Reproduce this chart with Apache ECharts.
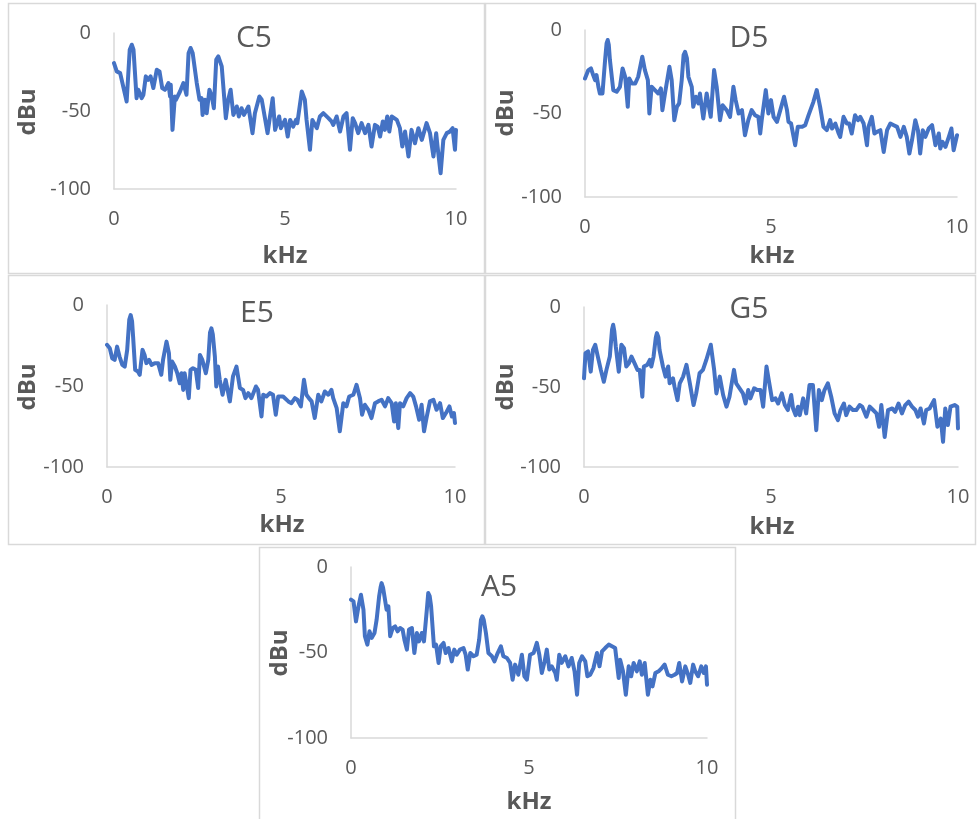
<!DOCTYPE html>
<html>
<head>
<meta charset="utf-8">
<script src="https://cdn.jsdelivr.net/npm/echarts@6/dist/echarts.min.js"></script>
<style>
html,body{margin:0;padding:0;background:#fff;}
#chart{width:977px;height:819px;}
</style>
</head>
<body>
<div id="chart"></div>
<script>
// Panel names
const panelNames = ['C5', 'D5', 'E5', 'G5', 'A5'];
const xTicks = [0, 5, 10];
const yTicks = [-100, -50, 0];

// C5
const khzC5 = [0.00,0.08,0.18,0.22,0.37,0.46,0.52,0.57,0.66,0.71,0.81,0.86,0.93,1.00,1.07,1.15,1.25,1.33,1.41,1.49,1.59,1.64,1.66,1.71,1.78,1.81,1.93,2.03,2.08,2.12,2.18,2.24,2.30,2.42,2.50,2.56,2.59,2.66,2.71,2.79,2.86,2.92,2.99,3.05,3.15,3.27,3.34,3.41,3.49,3.59,3.65,3.73,3.80,3.93,4.05,4.12,4.25,4.32,4.49,4.64,4.71,4.83,4.88,5.00,5.08,5.15,5.24,5.32,5.36,5.49,5.58,5.63,5.73,5.80,5.93,6.02,6.12,6.27,6.36,6.41,6.51,6.61,6.71,6.80,6.90,6.98,7.05,7.14,7.24,7.34,7.44,7.53,7.63,7.71,7.78,7.86,7.92,7.99,8.05,8.12,8.27,8.36,8.43,8.51,8.61,8.70,8.80,8.90,9.00,9.14,9.24,9.34,9.42,9.46,9.55,9.63,9.73,9.82,9.90,9.97,10.0];
const dbuC5 = [-19.3,-24.6,-25.7,-26.8,-43.9,-10.7,-7.5,-10.7,-41.8,-36.4,-41.8,-39.6,-27.8,-30.0,-27.8,-35.3,-23.6,-24.6,-35.3,-36.4,-32.1,-40.7,-33.2,-62.1,-40.7,-42.8,-37.5,-32.1,-33.2,-39.6,-13.0,-9.6,-12.8,-32.1,-42.8,-41.8,-52.5,-42.8,-51.4,-36.4,-40.7,-48.2,-17.0,-15.0,-21.4,-54.6,-42.8,-36.4,-52.5,-47.1,-53.5,-48.2,-52.5,-47.1,-64.2,-51.4,-40.7,-42.8,-64.2,-41.8,-62.1,-53.5,-61.0,-55.7,-66.4,-55.7,-60.0,-55.7,-57.8,-37.5,-42.8,-55.7,-74.9,-55.7,-61.0,-53.5,-51.4,-54.6,-56.7,-58.9,-53.5,-63.2,-53.5,-51.4,-74.9,-54.6,-57.8,-64.2,-57.8,-64.2,-58.9,-72.8,-58.9,-60.0,-66.4,-56.7,-62.1,-53.5,-63.2,-53.5,-55.7,-61.0,-72.8,-63.2,-79.2,-62.1,-70.7,-61.0,-68.5,-57.8,-64.2,-79.2,-64.2,-72.8,-89.9,-68.5,-64.2,-63.2,-61.0,-74.9,-62.1];

// D5
const khzD5 = [0.00,0.09,0.16,0.22,0.27,0.31,0.36,0.40,0.47,0.54,0.58,0.61,0.64,0.67,0.76,0.85,0.94,1.01,1.08,1.15,1.19,1.26,1.35,1.43,1.54,1.61,1.69,1.73,1.79,1.88,1.97,2.04,2.08,2.15,2.27,2.33,2.40,2.47,2.53,2.60,2.65,2.69,2.74,2.78,2.87,2.91,2.98,3.05,3.09,3.18,3.27,3.38,3.47,3.54,3.63,3.70,3.81,3.90,3.99,4.05,4.13,4.22,4.30,4.39,4.48,4.57,4.66,4.71,4.75,4.86,4.93,5.00,5.07,5.16,5.25,5.35,5.43,5.47,5.54,5.65,5.72,5.83,5.92,6.01,6.14,6.23,6.32,6.41,6.50,6.59,6.64,6.73,6.82,6.86,6.95,7.04,7.10,7.17,7.26,7.34,7.40,7.49,7.58,7.62,7.71,7.78,7.85,7.94,8.03,8.12,8.21,8.30,8.39,8.48,8.57,8.65,8.72,8.79,8.88,8.95,9.01,9.08,9.15,9.24,9.33,9.42,9.51,9.55,9.61,9.69,9.78,9.85,9.91,10.0];
const dbuD5 = [-29,-24,-23,-27,-30,-27,-34,-38,-38,-18,-8,-6,-9,-18,-36,-37,-34,-23,-28,-46,-29,-32,-32,-28,-16,-24,-30,-50,-34,-36,-38,-35,-48,-38,-22,-30,-54,-46,-44,-30,-15,-13,-17,-28,-34,-46,-40,-44,-38,-53,-38,-52,-24,-34,-54,-45,-48,-52,-34,-42,-50,-48,-63,-54,-48,-51,-52,-62,-54,-36,-50,-42,-52,-55,-48,-40,-48,-55,-56,-69,-58,-58,-57,-51,-43,-36,-46,-58,-60,-54,-59,-56,-62,-64,-52,-56,-56,-62,-51,-54,-52,-56,-69,-58,-52,-62,-61,-60,-73,-60,-56,-57,-58,-64,-58,-64,-74,-66,-54,-60,-74,-60,-64,-59,-57,-69,-62,-71,-67,-70,-64,-59,-72,-63];

// E5
const khzE5 = [0.00,0.08,0.15,0.22,0.29,0.36,0.44,0.51,0.58,0.64,0.68,0.72,0.75,0.81,0.89,0.94,1.02,1.08,1.13,1.21,1.28,1.37,1.47,1.56,1.61,1.71,1.78,1.82,1.87,1.95,2.02,2.09,2.14,2.19,2.23,2.28,2.35,2.40,2.47,2.55,2.62,2.67,2.74,2.84,2.91,2.96,3.00,3.04,3.10,3.14,3.19,3.24,3.32,3.41,3.53,3.62,3.72,3.82,3.91,3.98,4.06,4.15,4.28,4.34,4.44,4.49,4.58,4.68,4.77,4.85,4.92,5.06,5.21,5.30,5.40,5.47,5.57,5.66,5.73,5.80,5.88,5.97,6.07,6.16,6.26,6.36,6.45,6.50,6.60,6.69,6.79,6.88,6.96,7.08,7.17,7.27,7.33,7.41,7.51,7.60,7.70,7.79,7.89,7.99,8.08,8.18,8.25,8.30,8.37,8.42,8.51,8.61,8.71,8.80,8.88,8.97,9.04,9.11,9.19,9.28,9.38,9.47,9.57,9.65,9.74,9.84,9.91,9.97,10.0];
const dbuE5 = [-24.6,-26.7,-32.9,-33.9,-25.7,-31.8,-37.0,-38.0,-27.7,-9.0,-6.2,-10.0,-19.5,-40.0,-41.1,-43.1,-27.7,-30.8,-35.9,-33.9,-37.0,-35.9,-35.9,-43.1,-33.9,-22.6,-29.8,-46.2,-34.9,-38.0,-42.1,-48.3,-42.1,-52.4,-42.1,-48.3,-57.5,-40.0,-39.0,-40.0,-51.3,-30.8,-33.9,-42.1,-33.9,-17.0,-14.4,-18.0,-31.8,-50.3,-38.0,-46.2,-55.4,-46.2,-59.5,-44.1,-38.0,-51.3,-52.4,-57.5,-54.4,-57.5,-50.3,-52.4,-68.8,-55.4,-56.5,-54.4,-55.4,-67.8,-56.5,-56.5,-59.5,-60.6,-57.5,-58.5,-62.6,-46.2,-55.4,-57.5,-59.5,-69.8,-55.4,-59.5,-53.4,-55.4,-52.4,-57.5,-63.7,-78.0,-60.6,-62.6,-56.5,-55.4,-49.3,-57.5,-67.8,-61.6,-64.7,-69.8,-60.6,-59.5,-58.5,-62.6,-57.5,-60.6,-71.9,-60.6,-76.0,-60.6,-62.6,-57.5,-54.4,-56.5,-62.6,-70.8,-61.6,-78.0,-68.8,-59.5,-58.5,-64.7,-60.6,-69.8,-66.7,-62.6,-68.8,-66.7,-72.9];

// G5
const khzG5 = [0.00,0.04,0.11,0.18,0.24,0.30,0.37,0.45,0.53,0.60,0.69,0.75,0.78,0.81,0.85,0.93,1.00,1.07,1.13,1.20,1.27,1.35,1.43,1.49,1.56,1.60,1.69,1.76,1.80,1.86,1.92,1.95,1.99,2.02,2.11,2.18,2.25,2.29,2.38,2.42,2.50,2.56,2.65,2.74,2.83,2.93,3.00,3.09,3.18,3.27,3.39,3.48,3.54,3.63,3.72,3.81,3.89,4.01,4.07,4.16,4.25,4.32,4.39,4.45,4.55,4.63,4.72,4.79,4.88,4.94,5.03,5.12,5.19,5.29,5.37,5.45,5.54,5.59,5.66,5.72,5.77,5.86,5.94,6.03,6.12,6.21,6.28,6.36,6.43,6.52,6.61,6.70,6.79,6.86,6.95,7.01,7.10,7.19,7.28,7.37,7.44,7.55,7.64,7.73,7.82,7.89,7.95,8.04,8.13,8.24,8.32,8.41,8.50,8.59,8.68,8.77,8.86,8.93,9.00,9.09,9.15,9.24,9.36,9.45,9.54,9.60,9.66,9.73,9.80,9.91,9.98,10.0];
const dbuG5 = [-44.6,-28.9,-27.8,-40.4,-26.8,-23.6,-31.0,-39.3,-46.7,-39.3,-31.0,-14.0,-11.1,-15.0,-24.7,-40.4,-23.6,-25.7,-37.2,-35.1,-31.0,-35.1,-39.3,-39.3,-56.1,-37.2,-36.2,-33.1,-37.2,-31.0,-19.0,-16.3,-19.0,-26.8,-37.2,-43.5,-37.2,-47.7,-44.6,-49.8,-58.2,-47.7,-43.5,-36.2,-47.7,-61.3,-54.0,-41.4,-39.3,-33.1,-23.6,-39.3,-54.0,-43.5,-55.0,-62.3,-56.1,-39.3,-47.7,-50.8,-54.0,-60.3,-51.9,-57.1,-50.8,-51.9,-51.9,-62.3,-37.2,-45.6,-58.2,-57.1,-60.3,-54.0,-61.3,-64.4,-55.0,-63.4,-67.6,-62.3,-67.6,-57.1,-66.5,-48.7,-48.7,-77.0,-51.9,-58.2,-51.9,-47.7,-56.1,-66.5,-70.7,-64.4,-60.3,-67.6,-62.3,-64.4,-64.4,-61.3,-62.3,-68.6,-62.3,-64.4,-66.5,-74.9,-61.3,-81.2,-64.4,-63.4,-65.5,-60.3,-66.5,-61.3,-59.2,-62.3,-64.4,-68.6,-63.4,-72.8,-64.4,-63.4,-58.2,-74.9,-69.7,-84.3,-63.4,-73.8,-62.3,-61.3,-62.3,-75.9];

// A5
const khzA5 = [0.00,0.07,0.14,0.21,0.28,0.35,0.39,0.46,0.52,0.58,0.66,0.72,0.79,0.83,0.86,0.90,0.94,1.00,1.05,1.10,1.17,1.24,1.31,1.38,1.45,1.50,1.57,1.63,1.71,1.78,1.85,1.91,1.99,2.05,2.13,2.17,2.21,2.25,2.33,2.39,2.46,2.52,2.60,2.66,2.74,2.83,2.90,2.97,3.06,3.16,3.22,3.28,3.35,3.44,3.53,3.60,3.65,3.69,3.73,3.79,3.86,3.96,4.03,4.12,4.21,4.28,4.38,4.47,4.54,4.61,4.70,4.80,4.87,4.94,5.03,5.13,5.22,5.29,5.36,5.44,5.50,5.57,5.64,5.74,5.78,5.85,5.92,6.02,6.11,6.20,6.28,6.35,6.41,6.49,6.58,6.64,6.72,6.81,6.91,6.98,7.05,7.14,7.24,7.33,7.42,7.52,7.56,7.64,7.72,7.80,7.87,7.94,8.03,8.11,8.17,8.25,8.34,8.41,8.47,8.55,8.64,8.73,8.81,8.90,9.00,9.09,9.16,9.22,9.30,9.39,9.47,9.53,9.61,9.67,9.75,9.84,9.91,9.97,10.0];
const dbuA5 = [-19.1,-20.1,-31.8,-23.0,-16.2,-25.0,-40.5,-45.4,-37.6,-41.5,-38.6,-30.8,-17.2,-12.0,-9.4,-12.0,-17.2,-25.0,-23.0,-40.5,-35.7,-34.7,-37.6,-35.7,-36.6,-42.5,-48.3,-36.6,-35.7,-50.3,-38.6,-43.5,-38.6,-43.5,-25.0,-15.2,-17.0,-23.0,-46.4,-45.4,-56.1,-46.4,-44.4,-50.3,-47.4,-55.2,-48.3,-51.3,-48.3,-47.4,-51.3,-60.0,-50.3,-52.2,-51.3,-42.5,-31.0,-28.8,-31.0,-38.6,-50.3,-52.2,-55.2,-50.3,-46.4,-52.2,-53.2,-56.1,-65.9,-57.1,-63.0,-51.3,-63.9,-65.9,-51.3,-50.3,-44.4,-51.3,-62.0,-55.2,-48.3,-60.0,-58.1,-62.0,-65.9,-51.3,-56.1,-52.2,-58.1,-53.2,-61.0,-74.7,-56.1,-52.2,-55.2,-63.9,-63.0,-59.1,-50.3,-58.1,-49.3,-47.4,-45.4,-46.4,-47.4,-64.9,-54.2,-61.0,-74.7,-58.1,-63.9,-56.1,-61.0,-55.2,-63.0,-56.1,-74.7,-65.9,-69.8,-62.0,-61.0,-59.1,-57.1,-63.0,-63.9,-63.0,-62.0,-56.1,-66.9,-58.1,-63.0,-67.8,-57.1,-61.0,-63.9,-58.1,-62.0,-58.1,-68.8];

const seriesKhz = [khzC5, khzD5, khzE5, khzG5, khzA5];
const seriesDbu = [dbuC5, dbuD5, dbuE5, dbuG5, dbuA5];

// Layout (pixel positions)
const layout = [
  {grid:[114,33,342,156], box:[8.5,3.5,476,270], title:[254,38], xname:[285,256], yname:[28,112]},
  {grid:[585,30,372,167], box:[485.5,3.5,490,270], title:[749,38], xname:[772,256], yname:[506,113]},
  {grid:[107,305,348,162], box:[8.5,275.5,476,269], title:[257,313], xname:[282,525], yname:[28,387]},
  {grid:[584,307,374,160], box:[485.5,275.5,490,269], title:[749,309], xname:[772,527], yname:[506,387]},
  {grid:[351,567,356,171], box:[259.5,547.5,476,280], title:[499,587], xname:[529,802], yname:[280,653]}
];

const FONT = 'Open Sans';
const TXT = '#595959';
const AX = '#d9d9d9';
const LINE = '#4472C4';

const grids = [], xAxes = [], yAxes = [], series = [], graphics = [];
layout.forEach((L, i) => {
  grids.push({left:L.grid[0], top:L.grid[1], width:L.grid[2], height:L.grid[3]});
  xAxes.push({
    type:'value', gridIndex:i, min:xTicks[0], max:xTicks[xTicks.length-1], interval:5,
    axisLine:{show:true, onZero:false, lineStyle:{color:AX, width:1.5}},
    axisTick:{show:false}, splitLine:{show:false},
    axisLabel:{show:true, color:TXT, fontSize:20, fontFamily:FONT, margin:20}
  });
  yAxes.push({
    type:'value', gridIndex:i, min:yTicks[0], max:yTicks[yTicks.length-1], interval:50,
    axisLine:{show:true, lineStyle:{color:AX, width:1.5}},
    axisTick:{show:false}, splitLine:{show:false},
    axisLabel:{show:true, color:TXT, fontSize:20, fontFamily:FONT, margin:23}
  });
  const k = seriesKhz[i], d = seriesDbu[i];
  series.push({
    type:'line', xAxisIndex:i, yAxisIndex:i, showSymbol:false, symbol:'none',
    lineStyle:{color:LINE, width:4, join:'round', cap:'round'},
    data:k.map((x, j) => [x, d[j]]), animation:false
  });
  graphics.push({type:'rect', shape:{x:L.box[0], y:L.box[1], width:L.box[2], height:L.box[3]},
    style:{fill:'none', stroke:AX, lineWidth:1.5}, z:-1});
  graphics.push({type:'text', x:L.title[0], y:L.title[1],
    style:{text:panelNames[i], fill:TXT, font:'30px "Open Sans"', textAlign:'center', textVerticalAlign:'middle'}});
  graphics.push({type:'text', x:L.xname[0], y:L.xname[1],
    style:{text:'kHz', fill:TXT, font:'bold 24px "Open Sans"', textAlign:'center', textVerticalAlign:'middle'}});
  graphics.push({type:'text', x:L.yname[0], y:L.yname[1], rotation:Math.PI/2,
    style:{text:'dBu', fill:TXT, font:'bold 24px "Open Sans"', textAlign:'center', textVerticalAlign:'middle'}});
});

const chart = echarts.init(document.getElementById('chart'), null, {renderer:'canvas'});
chart.setOption({
  backgroundColor:'#ffffff',
  animation:false,
  textStyle:{fontFamily:FONT, fontSize:20, color:TXT},
  grid:grids, xAxis:xAxes, yAxis:yAxes, series:series,
  graphic:graphics
});
</script>
</body>
</html>
